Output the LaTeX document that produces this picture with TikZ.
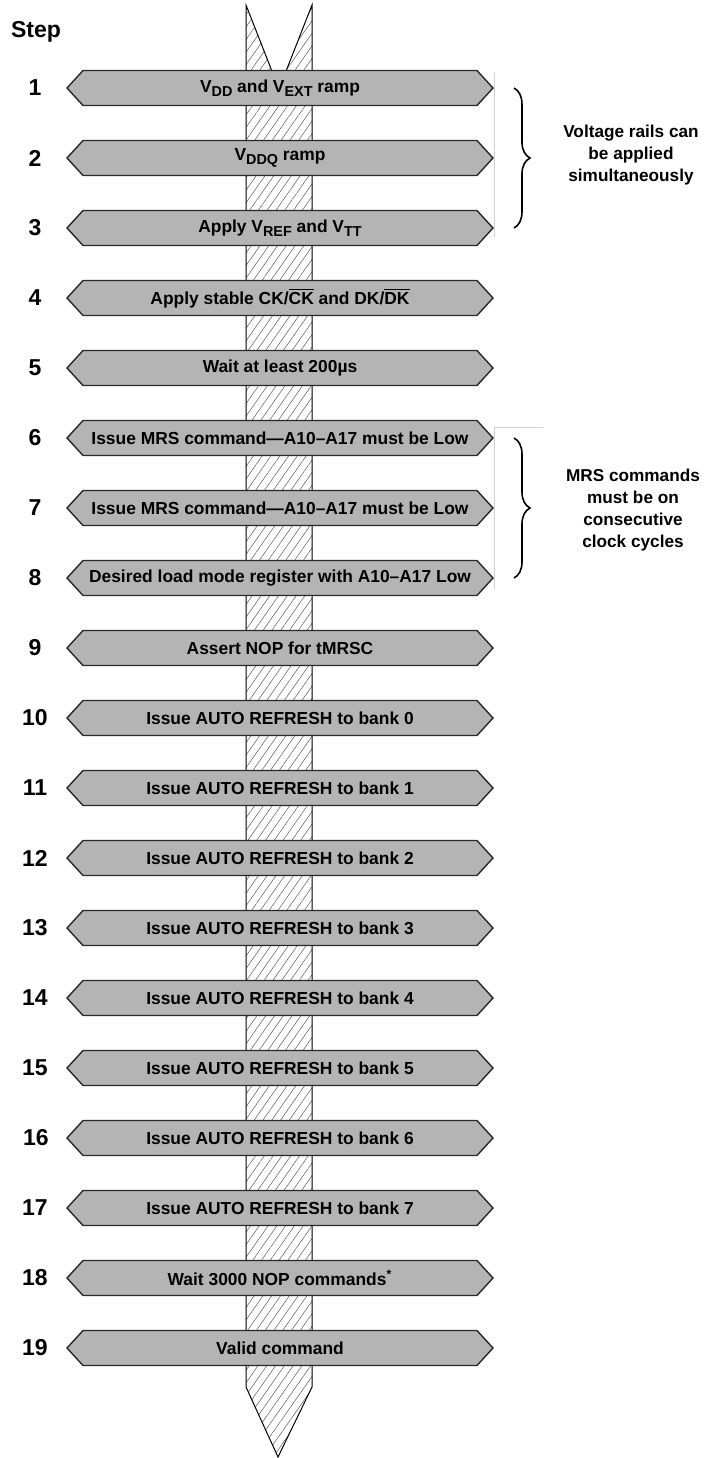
\documentclass[tikz,border=0pt]{standalone}
\usepackage{fontspec}
\setmainfont{Liberation Sans}
\usetikzlibrary{shapes.arrows,patterns.meta,decorations.pathreplacing}
\definecolor{barfill}{RGB}{180,180,180}
\definecolor{bardraw}{RGB}{40,40,40}
\newcommand{\ovl}[1]{$\overline{\mbox{#1}}$}
\newcommand{\vsub}[1]{\raisebox{-0.4ex}{\fontsize{7.2}{8}\selectfont #1}}
\begin{document}
\begin{tikzpicture}[x=0.5pt,y=-0.5pt]
		\tikzstyle{stepbar}=[shape=double arrow,double arrow head extend=0pt,double arrow tip angle=95,
			minimum height=213pt,minimum width=17.5pt,inner sep=0pt,fill=barfill,draw=bardraw,line width=0.7pt,
			font=\fontsize{8.7}{10}\selectfont\bfseries]
		\tikzstyle{num}=[font=\fontsize{11.5}{13}\selectfont\bfseries]
		\tikzstyle{note}=[align=center,font=\fontsize{8.6}{11}\selectfont\bfseries]
		\tikzstyle{brace}=[decorate,decoration={brace,amplitude=8pt},line width=0.8pt]
		\useasboundingbox (0,0) rectangle (705,1458);

		% hatched strip behind the steps
		\draw[line width=0.5pt,pattern={Lines[angle=55,distance=3.6pt,line width=0.25pt]},pattern color=black!65]
			(246,5) -- (279,89) -- (312,5) -- (312,1387) -- (278,1457) -- (246,1387) -- cycle;

		\node[num](head) at (36,32){Step};

		\node[num](n1) at (35,88){1};
		\node[stepbar](s1) at (280,88){V\vsub{DD} and V\vsub{EXT} ramp};
		\node[num](n2) at (35,158){2};
		\node[stepbar](s2) at (280,158){V\vsub{DDQ} ramp};
		\node[num](n3) at (35,228){3};
		\node[stepbar](s3) at (280,228){Apply V\vsub{REF} and V\vsub{TT}};
		\node[num](n4) at (35,298){4};
		\node[stepbar](s4) at (280,298){Apply stable CK/\ovl{CK} and DK/\ovl{DK}};
		\node[num](n5) at (35,368){5};
		\node[stepbar](s5) at (280,368){Wait at least 200µs};
		\node[num](n6) at (35,438){6};
		\node[stepbar](s6) at (280,438){Issue MRS command—A10–A17 must be Low};
		\node[num](n7) at (35,508){7};
		\node[stepbar](s7) at (280,508){Issue MRS command—A10–A17 must be Low};
		\node[num](n8) at (35,578){8};
		\node[stepbar](s8) at (280,578){Desired load mode register with A10–A17 Low};
		\node[num](n9) at (35,648){9};
		\node[stepbar](s9) at (280,648){Assert NOP for tMRSC};
		\node[num](n10) at (35,718){10};
		\node[stepbar](s10) at (280,718){Issue AUTO REFRESH to bank 0};
		\node[num](n11) at (35,788){11};
		\node[stepbar](s11) at (280,788){Issue AUTO REFRESH to bank 1};
		\node[num](n12) at (35,858){12};
		\node[stepbar](s12) at (280,858){Issue AUTO REFRESH to bank 2};
		\node[num](n13) at (35,928){13};
		\node[stepbar](s13) at (280,928){Issue AUTO REFRESH to bank 3};
		\node[num](n14) at (35,998){14};
		\node[stepbar](s14) at (280,998){Issue AUTO REFRESH to bank 4};
		\node[num](n15) at (35,1068){15};
		\node[stepbar](s15) at (280,1068){Issue AUTO REFRESH to bank 5};
		\node[num](n16) at (36,1138){16};
		\node[stepbar](s16) at (280,1138){Issue AUTO REFRESH to bank 6};
		\node[num](n17) at (35,1208){17};
		\node[stepbar](s17) at (280,1208){Issue AUTO REFRESH to bank 7};
		\node[num](n18) at (35,1278){18};
		\node[stepbar](s18) at (280,1278){Wait 3000 NOP commands\textsuperscript{*}};
		\node[num](n19) at (35,1348){19};
		\node[stepbar](s19) at (280,1348){Valid command};

		% faint frame lines at the right of the groups
		\draw[gray!35,line width=0.3pt] (494,73) -- (494,237);
		\draw[gray!35,line width=0.3pt] (543,427) -- (494,427) -- (494,589);

		\draw[brace] ([xshift=10pt]s1.east) -- ([xshift=10pt]s3.east);
		\node[note](rails) at (631,155){Voltage rails can\\be applied\\simultaneously};
		\draw[brace] ([xshift=10pt]s6.east) -- ([xshift=10pt]s8.east);
		\node[note](mrs) at (633,510){MRS commands\\must be on\\consecutive\\clock cycles};
	\end{tikzpicture}
\end{document}
